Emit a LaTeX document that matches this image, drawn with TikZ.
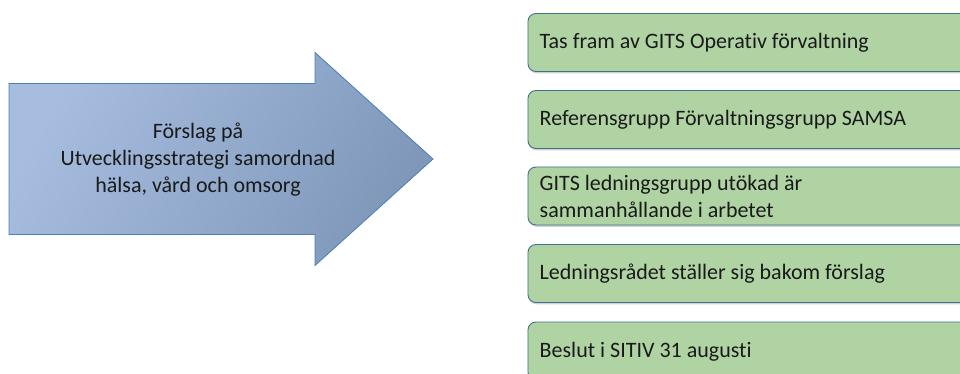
\documentclass[tikz,border=0pt]{standalone}
\usepackage{fontspec}
\setmainfont[Ligatures=NoCommon]{Carlito}
\usetikzlibrary{shadows}
\definecolor{arrowlight}{HTML}{A7BDE0}
\definecolor{arrowdark}{HTML}{7F98BA}
\definecolor{arrowborder}{HTML}{4A7EBB}
\definecolor{boxfill}{HTML}{B0D3A4}
\definecolor{boxborder}{HTML}{42708F}
\definecolor{txt}{HTML}{1A1A1A}
\tikzset{
  stepbox/.style={draw=boxborder, line width=0.9pt, fill=boxfill, rounded corners=8pt,
    anchor=west, minimum width=480pt, minimum height=58pt, inner xsep=12pt,
    drop shadow={shadow xshift=0.6pt, shadow yshift=-1.8pt, opacity=0.35}},
  boxtext/.style={anchor=west, text=txt, align=left, inner sep=0pt, font=\fontsize{22}{27}\selectfont}
}
\begin{document}
\begin{tikzpicture}[x=1pt,y=-1pt]
\useasboundingbox (0,0) rectangle (960,374);
\fill[white] (0,0) rectangle (960,374);
% big arrow
\path[draw=arrowborder, line width=0.8pt, left color=arrowlight, right color=arrowdark, shading angle=60]
  (9,83.5) -- (315,83.5) -- (315,52.5) -- (433,159) -- (315,265.5) -- (315,234.5) -- (9,234.5) -- cycle;
\node[text=txt, align=center, font=\fontsize{22}{27}\selectfont] (prop) at (198,160)
  {Förslag på\\Utvecklingsstrategi samordnad\\hälsa, vård och omsorg};
% boxes
\node[stepbox] (b1) at (527.5,42.5) {};
\node[boxtext] (t1) at (539.5,43) {Tas fram av GITS Operativ förvaltning};
\node[stepbox] (b2) at (527.5,119.5) {};
\node[boxtext] (t2) at (539.5,120) {Referensgrupp Förvaltningsgrupp SAMSA};
\node[stepbox] (b3) at (527.5,196) {};
\node[boxtext] (t3) at (539.5,196.5) {GITS ledningsgrupp utökad är\\sammanhållande i arbetet};
\node[stepbox] (b4) at (527.5,273.5) {};
\node[boxtext] (t4) at (539.5,274) {Ledningsrådet ställer sig bakom förslag};
\node[stepbox] (b5) at (527.5,351) {};
\node[boxtext] (t5) at (539.5,351.5) {Beslut i SITIV 31 augusti};
\end{tikzpicture}
\end{document}
